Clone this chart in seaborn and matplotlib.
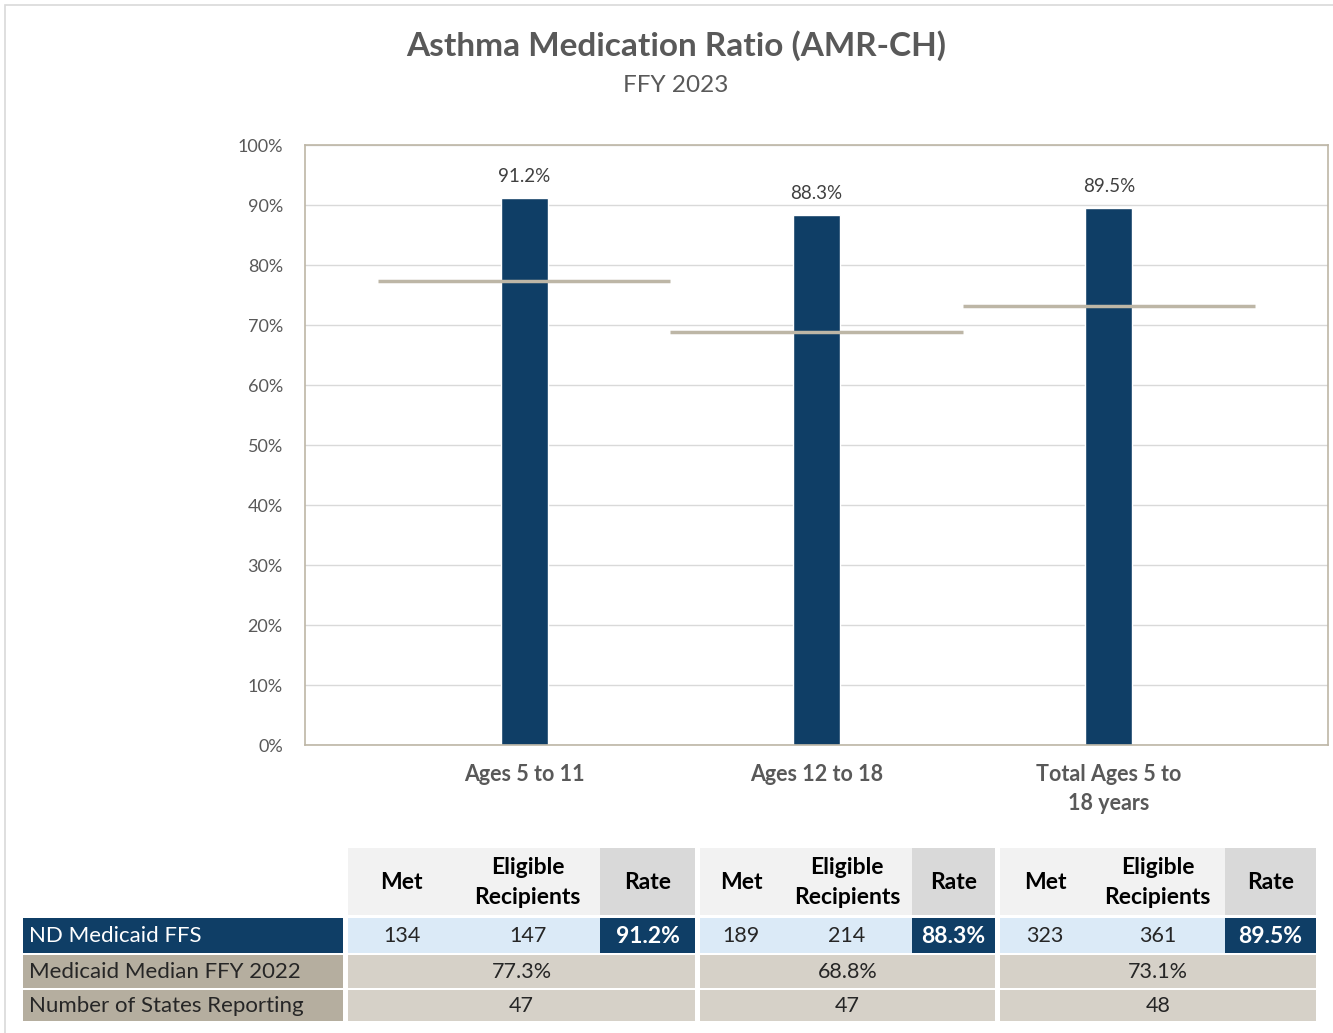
import matplotlib
matplotlib.use("Agg")
import matplotlib.pyplot as plt
from matplotlib.patches import Rectangle
from matplotlib.ticker import PercentFormatter
import seaborn as sns
import pandas as pd

categories = ["Ages 5 to 11", "Ages 12 to 18", "Total Ages 5 to\n18 years"]
rates = [91.2, 88.3, 89.5]
medians = [77.3, 68.8, 73.1]
met = [134, 189, 323]
eligible = [147, 214, 361]
states = [47, 47, 48]
row_labels = ["ND Medicaid FFS", "Medicaid Median FFY 2022", "Number of States Reporting"]
col_headers = ["Met", "Eligible\nRecipients", "Rate"]

navy = "#0f3e66"
taupe = "#bdb6a6"
text_gray = "#595959"

sns.set_theme(style="white")
plt.rcParams["font.family"] = ["Lato", "DejaVu Sans"]

df = pd.DataFrame({"category": categories, "rate": rates})

fig = plt.figure(figsize=(13.33, 10.33), dpi=100)
W, H = 1333, 1033

# thin frame around the whole chart
fig.add_artist(Rectangle((5 / W, -0.01), 1.02, 1 - 5 / H + 0.01, transform=fig.transFigure,
                         fill=False, edgecolor="#d9d9d9", linewidth=1.2))

fig.text(0.507, 1 - 46 / H, "Asthma Medication Ratio (AMR-CH)", ha="center", va="center",
         fontsize=24, fontweight="bold", color=text_gray)
fig.text(0.507, 1 - 86 / H, "FFY 2023", ha="center", va="center", fontsize=17.5, color=text_gray)

ax = fig.add_axes([305 / W, 1 - 745 / H, (1328 - 305) / W, 600 / H])
sns.barplot(data=df, x="category", y="rate", color=navy, width=0.16, saturation=1, ax=ax)
for i, m in enumerate(medians):
    ax.hlines(m, i - 0.5, i + 0.5, color=taupe, linewidth=2.5, zorder=3)
for i, r in enumerate(rates):
    ax.text(i, r + 2.2, f"{r}%", ha="center", va="bottom", fontsize=13.5, color="#404040")

ax.set_xlim(-0.75, 2.75)
ax.set_ylim(0, 100)
ax.set_yticks(range(0, 101, 10))
ax.yaxis.set_major_formatter(PercentFormatter(decimals=0))
ax.grid(axis="y", color="#d9d9d9", linewidth=1)
ax.set_axisbelow(True)
ax.set_xlabel("")
ax.set_ylabel("")
ax.tick_params(axis="y", labelsize=13, labelcolor=text_gray, pad=16, length=0)
ax.tick_params(axis="x", labelsize=15.5, labelcolor=text_gray, pad=14, length=0)
for lbl in ax.get_xticklabels():
    lbl.set_fontweight("bold")
    lbl.set_linespacing(1.45)
for s in ax.spines.values():
    s.set_color(taupe)
    s.set_linewidth(1.2)

# data table below the chart, drawn in pixel coordinates
tab = fig.add_axes([0, 0, 1, 1])
tab.set_xlim(0, W)
tab.set_ylim(H, 0)
tab.axis("off")

groups = [(348, 455, 600, 695), (700, 782, 912, 995), (1000, 1090, 1225, 1316)]
rows_y = [(848, 915), (918, 953), (955, 988), (990, 1021)]
label_x = (23, 343)


def cell(x0, x1, y0, y1, fc, txt=None, color="#262626", bold=False, size=15.5):
    tab.add_patch(Rectangle((x0, y0), x1 - x0, y1 - y0, facecolor=fc, edgecolor="none"))
    if txt is not None:
        tab.text((x0 + x1) / 2, (y0 + y1) / 2 + 1, txt, ha="center", va="center",
                 fontsize=size, color=color, fontweight="bold" if bold else "normal", linespacing=1.5)


# row labels
for r, lab in enumerate(row_labels):
    y0, y1 = rows_y[r + 1]
    fc = navy if r == 0 else "#b5ae9f"
    tab.add_patch(Rectangle((label_x[0], y0), label_x[1] - label_x[0], y1 - y0, facecolor=fc, edgecolor="none"))
    tab.text(label_x[0] + 6, (y0 + y1) / 2 + 1, lab, ha="left", va="center", fontsize=16,
             color="white" if r == 0 else "#262626")

for g, (a, b, c, d) in enumerate(groups):
    hy0, hy1 = rows_y[0]
    cell(a, b, hy0, hy1, "#f2f2f2", col_headers[0], color="black", bold=True, size=16.5)
    cell(b, c, hy0, hy1, "#f2f2f2", col_headers[1], color="black", bold=True, size=16.5)
    cell(c, d, hy0, hy1, "#d9d9d9", col_headers[2], color="black", bold=True, size=16.5)
    y0, y1 = rows_y[1]
    cell(a, b, y0, y1, "#dbeaf7", str(met[g]))
    cell(b, c, y0, y1, "#dbeaf7", str(eligible[g]))
    cell(c, d, y0, y1, navy, f"{rates[g]}%", color="white", bold=True, size=16.5)
    y0, y1 = rows_y[2]
    cell(a, d, y0, y1, "#d6d1c8", f"{medians[g]}%")
    y0, y1 = rows_y[3]
    cell(a, d, y0, y1, "#d6d1c8", str(states[g]))

fig.savefig("out.png", dpi=100)
